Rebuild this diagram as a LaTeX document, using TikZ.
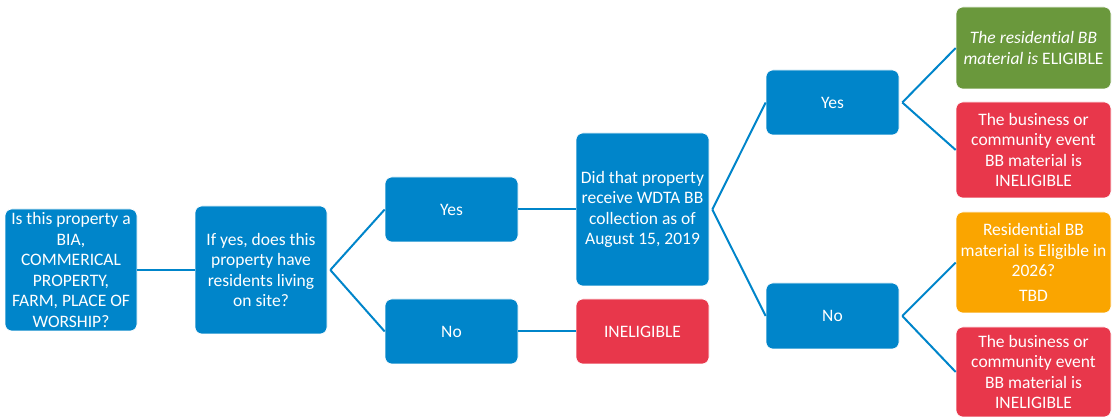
\documentclass[tikz,border=0pt]{standalone}
\usepackage{fontspec}
\setmainfont[Ligatures={NoCommon}]{Carlito}
\definecolor{bblue}{RGB}{0,133,202}
\definecolor{bgreen}{RGB}{106,152,60}
\definecolor{bred}{RGB}{232,55,75}
\definecolor{borange}{RGB}{250,165,0}
\begin{document}
\begin{tikzpicture}[x=1pt,y=1pt,
  box/.style={draw=white, line width=0.6pt, rounded corners=7pt, text=white, align=center,
    font=\fontsize{17.5}{20.5}\selectfont, inner sep=0pt},
  bluebox/.style={box, fill=bblue},
  greenbox/.style={box, fill=bgreen},
  redbox/.style={box, fill=bred},
  orangebox/.style={box, fill=borange},
  link/.style={draw=bblue, line width=2pt}]
\useasboundingbox (0,0) rectangle (1113,419);
\node[bluebox, minimum width=132pt, minimum height=122pt] (A) at (71,149)
  {Is this property a\\ BIA,\\ COMMERICAL\\ PROPERTY,\\ FARM, PLACE OF\\ WORSHIP?};
\node[bluebox, minimum width=132pt, minimum height=128pt] (B) at (261,149)
  {If yes, does this\\ property have\\ residents living\\ on site?};
\node[bluebox, minimum width=133pt, minimum height=65pt] (Y1) at (451.5,209.5) {Yes};
\node[bluebox, minimum width=133pt, minimum height=65pt] (N1) at (451.5,87.5) {No};
\node[bluebox, minimum width=133pt, minimum height=153pt] (Q) at (642.5,209.5)
  {Did that property\\ receive WDTA BB\\ collection as of\\ August 15, 2019};
\node[redbox, minimum width=133pt, minimum height=65pt] (I) at (642.5,87.5) {INELIGIBLE};
\node[bluebox, minimum width=133pt, minimum height=65pt] (Y2) at (832.5,316.5) {Yes};
\node[bluebox, minimum width=133pt, minimum height=66pt] (N2) at (832.5,103) {No};
\node[greenbox, minimum width=155pt, minimum height=82pt] (G) at (1033.5,371)
  {\textit{The residential BB}\\ \textit{material is} ELIGIBLE};
\node[redbox, minimum width=155pt, minimum height=96pt] (R1) at (1033.5,269)
  {The business or\\ community event\\ BB material is\\ INELIGIBLE};
\node[orangebox, minimum width=155pt, minimum height=101pt] (O) at (1033.5,156.5)
  {Residential BB\\ material is Eligible in\\ 2026?\\[4pt] TBD};
\node[redbox, minimum width=155pt, minimum height=90pt] (R2) at (1033.5,47)
  {The business or\\ community event\\ BB material is\\ INELIGIBLE};
\draw[link] (A.east) -- (B.east -| B.west);
\draw[link] ([xshift=3pt]B.east) -- (Y1.west);
\draw[link] ([xshift=3pt]B.east) -- (N1.west);
\draw[link] (Y1.east) -- (Q.west);
\draw[link] (N1.east) -- (I.west);
\draw[link] ([xshift=3pt]Q.east) -- (Y2.west);
\draw[link] ([xshift=3pt]Q.east) -- (N2.west);
\draw[link] ([xshift=3pt]Y2.east) -- (G.west);
\draw[link] ([xshift=3pt]Y2.east) -- (R1.west);
\draw[link] ([xshift=3pt]N2.east) -- (O.west);
\draw[link] ([xshift=3pt]N2.east) -- (R2.west);
\end{tikzpicture}
\end{document}
